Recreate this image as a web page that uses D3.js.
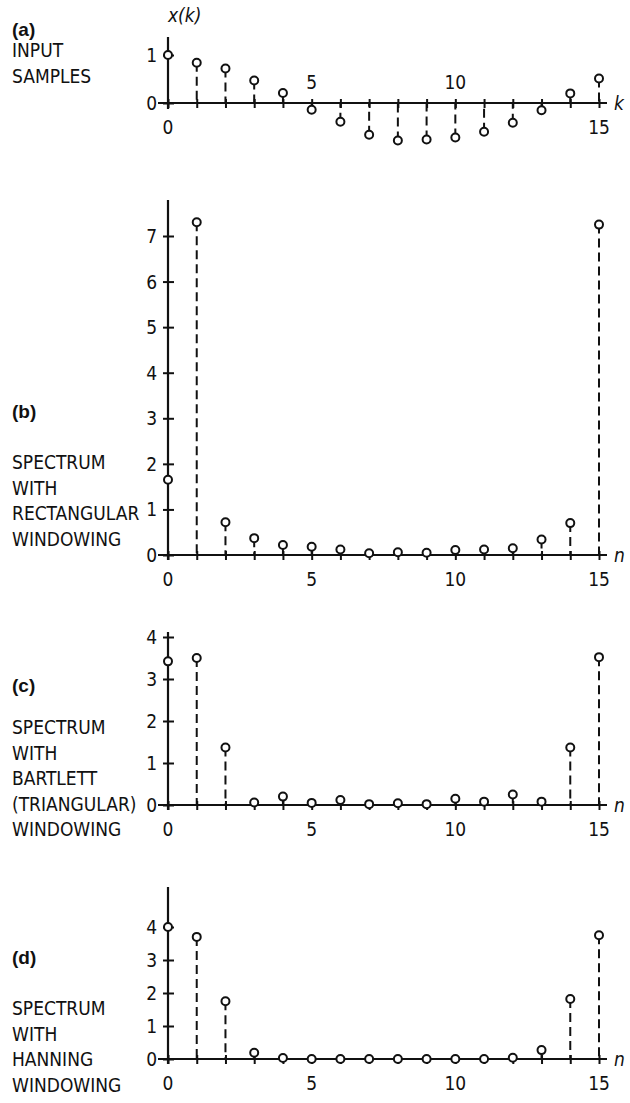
<!DOCTYPE html>
<html>
<head>
<meta charset="utf-8">
<script src="https://cdn.jsdelivr.net/npm/d3@7"></script>
<style>
  body { margin: 0; background: #fff; }
  svg text { font-family: "Liberation Sans Narrow", "DejaVu Sans Condensed", "Liberation Sans", sans-serif; fill: #111; }
</style>
</head>
<body>
<svg id="chart" width="630" height="1103"></svg>
<script>
// sample index k / bin index n
const indices = d3.range(16);
const labelTicks = [0, 5, 10, 15];

// (a) input samples x(k)
const inputSamples = [1.0, 0.84, 0.72, 0.47, 0.21, -0.14, -0.39, -0.66, -0.78, -0.76, -0.72, -0.6, -0.41, -0.15, 0.2, 0.51];
// (b) rectangular window spectrum
const rectSpectrum = [1.65, 7.3, 0.72, 0.37, 0.22, 0.18, 0.12, 0.04, 0.06, 0.05, 0.11, 0.12, 0.15, 0.34, 0.7, 7.25];
// (c) Bartlett (triangular) window spectrum
const bartlettSpectrum = [3.42, 3.5, 1.37, 0.06, 0.2, 0.05, 0.12, 0.02, 0.04, 0.02, 0.15, 0.08, 0.25, 0.08, 1.37, 3.52];
// (d) Hanning window spectrum
const hanningSpectrum = [4.0, 3.7, 1.75, 0.19, 0.03, 0, 0, 0, 0, 0, 0, 0, 0.04, 0.27, 1.82, 3.75];

const yTicksA = [0, 1];
const yTicksB = d3.range(8);
const yTicksC = d3.range(5);
const yTicksD = d3.range(5);

const svg = d3.select("#chart");
const x = d3.scaleLinear().domain([0, 15]).range([168, 599]);

const panels = [
  { tag: "(a)", lines: ["INPUT", "SAMPLES"], values: inputSamples, yTicks: yTicksA,
    domain: [0, 1], range: [103, 55], axisTop: 37, axisBottom: 109, tagY: 36, textY: 57, varName: "k" },
  { tag: "(b)", lines: ["SPECTRUM", "WITH", "RECTANGULAR", "WINDOWING"], values: rectSpectrum, yTicks: yTicksB,
    domain: [0, 7], range: [555, 236], axisTop: 200, axisBottom: 560, tagY: 418, textY: 469, varName: "n" },
  { tag: "(c)", lines: ["SPECTRUM", "WITH", "BARTLETT", "(TRIANGULAR)", "WINDOWING"], values: bartlettSpectrum, yTicks: yTicksC,
    domain: [0, 4], range: [805, 637], axisTop: 632, axisBottom: 810, tagY: 692, textY: 734, varName: "n" },
  { tag: "(d)", lines: ["SPECTRUM", "WITH", "HANNING", "WINDOWING"], values: hanningSpectrum, yTicks: yTicksD,
    domain: [0, 4], range: [1059, 927], axisTop: 887, axisBottom: 1064, tagY: 964, textY: 1015, varName: "n" }
];

panels.forEach((p, i) => {
  const y = d3.scaleLinear().domain(p.domain).range(p.range);
  const y0 = y(0);
  const g = svg.append("g");

  // left-hand caption
  g.append("text").attr("x", 12).attr("y", p.tagY)
    .attr("font-size", 19).attr("font-weight", "bold")
    .style("font-family", "'Liberation Sans', Arial, sans-serif")
    .text(p.tag);
  p.lines.forEach((t, j) => {
    g.append("text").attr("x", 12).attr("y", p.textY + j * 25.6)
      .attr("font-size", 19).text(t);
  });

  // stems, dashed from the circle down (or up) to the axis
  g.selectAll(".stem").data(indices).enter().append("line")
    .attr("x1", d => x(d)).attr("x2", d => x(d))
    .attr("y1", d => y(p.values[d])).attr("y2", y0)
    .attr("stroke", "#111").attr("stroke-width", 2)
    .attr("stroke-dasharray", "9,5");

  // x axis with crossing ticks
  const xAxis = g.append("g").attr("transform", `translate(0,${y0})`)
    .call(d3.axisBottom(x).tickValues(indices).tickFormat(""));
  xAxis.select(".domain").remove();
  xAxis.selectAll(".tick line").attr("y1", -4).attr("y2", 5).attr("stroke", "#111").attr("stroke-width", 2);
  g.append("line").attr("x1", 158).attr("x2", 607).attr("y1", y0).attr("y2", y0)
    .attr("stroke", "#111").attr("stroke-width", 2.2);

  // x tick labels
  g.selectAll(".xl").data(labelTicks).enter().append("text")
    .attr("x", d => x(d)).attr("text-anchor", "middle").attr("font-size", 19)
    .attr("y", d => (i === 0 && (d === 5 || d === 10)) ? y0 - 14 : y0 + 31)
    .text(d => d);

  // y axis with crossing ticks
  const yAxis = g.append("g").attr("transform", `translate(${x(0)},0)`)
    .call(d3.axisLeft(y).tickValues(p.yTicks).tickFormat(""));
  yAxis.select(".domain").remove();
  yAxis.selectAll(".tick line").attr("x1", -5).attr("x2", 6).attr("stroke", "#111").attr("stroke-width", 2);
  g.append("line").attr("x1", x(0)).attr("x2", x(0)).attr("y1", p.axisTop).attr("y2", p.axisBottom)
    .attr("stroke", "#111").attr("stroke-width", 2.2);
  g.selectAll(".yl").data(p.yTicks).enter().append("text")
    .attr("x", 157).attr("y", d => y(d) + 7).attr("text-anchor", "end").attr("font-size", 19)
    .text(d => d);

  // axis variable
  g.append("text").attr("x", 614).attr("y", y0 + 7).attr("font-size", 19)
    .attr("font-style", "italic").text(p.varName);

  // sample circles
  g.selectAll(".pt").data(indices).enter().append("circle")
    .attr("cx", d => x(d)).attr("cy", d => y(p.values[d])).attr("r", 4)
    .attr("fill", "#fff").attr("stroke", "#111").attr("stroke-width", 2);
});

// x(k) title over panel (a)
svg.append("text").attr("x", 168).attr("y", 22).attr("font-size", 19)
  .attr("font-style", "italic").text("x(k)");
</script>
</body>
</html>
